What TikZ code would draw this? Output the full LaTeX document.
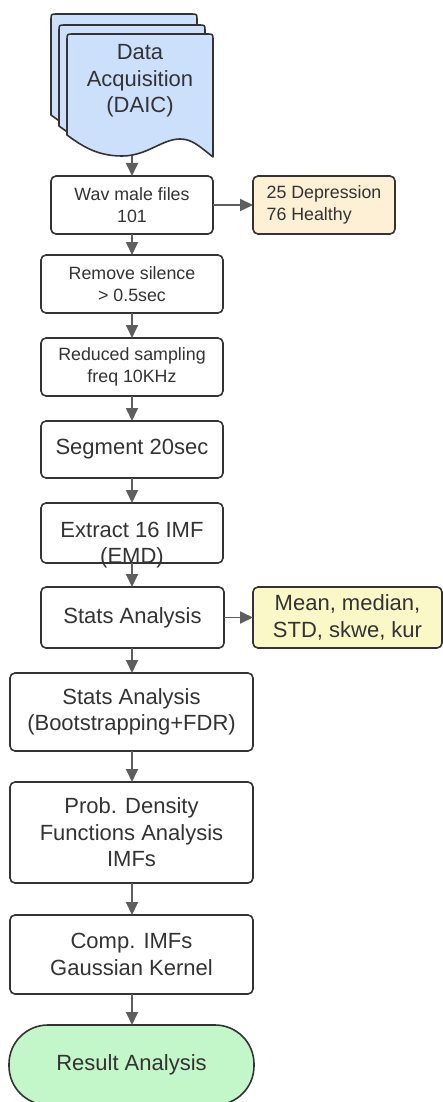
\documentclass[tikz,border=0pt]{standalone}
\usepackage{fontspec}
\setmainfont{Liberation Sans}
\usetikzlibrary{arrows.meta}
\definecolor{ink}{HTML}{333333}
\definecolor{arrowgray}{HTML}{5E5E5E}
\definecolor{docblue}{HTML}{CCE0FC}
\definecolor{cream}{HTML}{FDF0D5}
\definecolor{lightyellow}{HTML}{FBF8C8}
\definecolor{lightgreen}{HTML}{C3F6C8}
\begin{document}
\begin{tikzpicture}[x=1pt,y=-1pt,
  box/.style={draw=ink, line width=1.6pt, rounded corners=5pt, fill=white,
    inner sep=0pt, outer sep=0pt, align=center, text=ink},
  big/.style={font=\fontsize{22}{26.5}\selectfont},
  small/.style={font=\fontsize{17.8}{21.3}\selectfont},
  conn/.style={draw=arrowgray, line width=1.8pt, -{Triangle[length=13pt,width=12pt]}},
  docsty/.style={draw=ink, line width=1.6pt, fill=docblue, line join=round},
  docsheet/.pic={
    \path[docsty] (0,6) .. controls (0,0) .. (6,0) -- (140,0)
      .. controls (146,0) .. (146,6) -- (146,123)
      .. controls (132,112) and (125,105) .. (113,105)
      .. controls (95,105) and (80,122) .. (55,122)
      .. controls (30,122) and (15,112) .. (0,101) -- cycle;
  }
]
\useasboundingbox (0,0) rectangle (443,1102);

% stacked documents
\pic (back) at (51,14) {docsheet};
\pic (mid) at (59,25) {docsheet};
\pic (front) at (67,34) {docsheet};
\node[big, text=ink, align=center, inner sep=0pt] (doc) at (140,81) {Data\\Acquisition\\(DAIC)};
\coordinate (docb) at (132,156);

% process boxes
\node[box, small, minimum width=162pt, minimum height=58pt] (wav) at (132,205) {Wav male files\\101};
\node[box, small, fill=cream, align=left, minimum width=142pt, minimum height=58pt] (dep) at (324,205) {25 Depression\\76 Healthy};
\node[box, small, minimum width=182pt, minimum height=58pt] (remove) at (132,284) {Remove silence\\> 0.5sec};
\node[box, small, minimum width=182pt, minimum height=58pt] (reduced) at (132,367) {Reduced sampling\\freq 10KHz};
\node[box, big, minimum width=182pt, minimum height=57pt] (segment) at (132,449.5) {Segment 20sec};
\node[box, minimum width=182pt, minimum height=60pt] (extract) at (132,533) {};
\node[big, text=ink, align=center, inner sep=0pt] (extractT) at (132,545) {Extract 16 IMF\\(EMD)};
\node[box, big, minimum width=183pt, minimum height=61pt] (stats) at (132.5,617.5) {Stats Analysis};
\node[box, big, fill=lightyellow, minimum width=189pt, minimum height=61pt] (mean) at (347.5,617.5) {Mean, median,\\STD, skwe, kur};
\node[box, big, minimum width=243pt, minimum height=78pt] (boot) at (131.5,712) {Stats Analysis\\(Bootstrapping+FDR)};
\node[box, big, minimum width=243pt, minimum height=101pt] (prob) at (131.5,832.5) {Prob. Density\\Functions Analysis\\IMFs};
\node[box, big, minimum width=243pt, minimum height=79pt] (comp) at (131.5,954.5) {Comp. IMFs\\Gaussian Kernel};
\node[box, big, fill=lightgreen, rounded corners=39pt, minimum width=245pt, minimum height=80pt] (result) at (131.5,1065) {Result Analysis};

% connectors
\draw[conn] (docb) -- (wav.north);
\draw[conn] (wav.east) -- (dep.west);
\draw[conn] (wav.south) -- (remove.north);
\draw[conn] (remove.south) -- (reduced.north);
\draw[conn] (reduced.south) -- (segment.north);
\draw[conn] (segment.south) -- (extract.north);
\draw[conn] (extract.south) -- (extract.south |- stats.north);
\draw[conn] (stats.east) -- (mean.west);
\draw[conn] (stats.south -| extract.south) -- (extract.south |- boot.north);
\draw[conn] (boot.south -| extract.south) -- (extract.south |- prob.north);
\draw[conn] (prob.south -| extract.south) -- (extract.south |- comp.north);
\draw[conn] (comp.south -| extract.south) -- (extract.south |- result.north);
\end{tikzpicture}
\end{document}
